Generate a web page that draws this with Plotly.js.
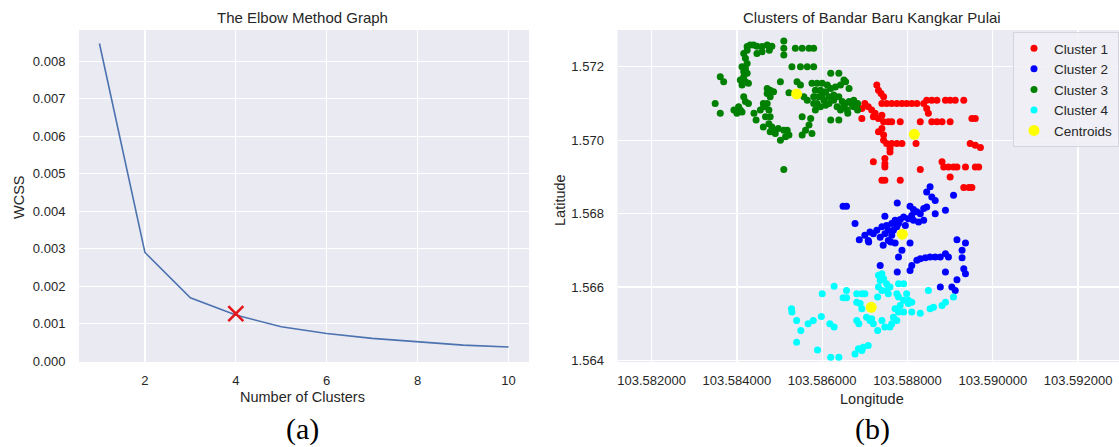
<!DOCTYPE html>
<html>
<head>
<meta charset="utf-8">
<script src="https://cdn.plot.ly/plotly-3.0.1.min.js"></script>
<style>
html,body{margin:0;padding:0;background:#fff;overflow:hidden;}
#chart{width:1119px;height:447px;}
</style>
</head>
<body>
<div id="chart"></div>
<script>
// ---------- Elbow data ----------
const kValues = [1, 2, 3, 4, 5, 6, 7, 8, 9, 10];
const wcss = [0.00847, 0.00290, 0.00169, 0.00123, 0.00092, 0.00074, 0.00061, 0.00052, 0.00043, 0.00038];
const elbowK = [4];
const elbowWcss = [0.00127];

// ---------- Cluster data ----------
const c1Lon = [103.58728,103.58732,103.58738,103.58744,103.58740,103.58751,103.58763,103.58775,103.58787,103.58798,103.58810,103.58822,103.58838,103.58845,103.58857,103.58869,103.58889,103.58900,103.58912,103.58932,103.58845,103.58849,103.58700,103.58708,103.58693,103.58716,103.58724,103.58720,103.58732,103.58740,103.58744,103.58755,103.58763,103.58783,103.58693,103.58830,103.58857,103.58869,103.58881,103.58900,103.58951,103.58959,103.58732,103.58740,103.58744,103.58744,103.58751,103.58763,103.58775,103.58787,103.58759,103.58759,103.58820,103.58947,103.58959,103.58971,103.58720,103.58747,103.58747,103.58747,103.58830,103.58881,103.58885,103.58896,103.58908,103.58916,103.58936,103.58959,103.58967,103.58900,103.58740,103.58747,103.58783,103.58932,103.58944,103.58951];
const c1Lat = [1.57150,1.57136,1.57127,1.57118,1.57100,1.57100,1.57100,1.57100,1.57100,1.57100,1.57100,1.57100,1.57100,1.57109,1.57109,1.57109,1.57109,1.57109,1.57109,1.57109,1.57086,1.57073,1.57100,1.57091,1.57086,1.57082,1.57073,1.57064,1.57059,1.57068,1.57050,1.57050,1.57050,1.57050,1.57059,1.57050,1.57050,1.57050,1.57050,1.57050,1.57059,1.57059,1.57023,1.57032,1.57014,1.57000,1.56991,1.56991,1.56991,1.56991,1.56977,1.56968,1.56991,1.56991,1.56986,1.56980,1.56941,1.56950,1.56936,1.56927,1.56920,1.56941,1.56927,1.56927,1.56927,1.56927,1.56927,1.56927,1.56927,1.56900,1.56891,1.56891,1.56891,1.56871,1.56871,1.56871];

const c2Lon = [103.58649,103.58657,103.58776,103.58806,103.58814,103.58822,103.58830,103.58853,103.58845,103.58857,103.58865,103.58838,103.58845,103.58865,103.58889,103.58908,103.58747,103.58677,103.58712,103.58720,103.58728,103.58740,103.58751,103.58763,103.58771,103.58783,103.58791,103.58802,103.58814,103.58826,103.58838,103.58700,103.58708,103.58687,103.58736,103.58747,103.58755,103.58763,103.58767,103.58775,103.58806,103.58787,103.58779,103.58736,103.58776,103.58806,103.58810,103.58822,103.58830,103.58842,103.58853,103.58865,103.58877,103.58889,103.58896,103.58916,103.58936,103.58928,103.58928,103.58932,103.58936,103.58916,103.58889,103.58877,103.58904,103.58912,103.58755,103.58779,103.58795,103.58810,103.58771,103.58743,103.58709,103.58761];
const c2Lat = [1.56820,1.56820,1.56829,1.56820,1.56811,1.56805,1.56800,1.56873,1.56859,1.56845,1.56836,1.56814,1.56818,1.56800,1.56809,1.56850,1.56793,1.56773,1.56750,1.56745,1.56755,1.56764,1.56768,1.56773,1.56782,1.56784,1.56791,1.56786,1.56782,1.56777,1.56782,1.56741,1.56727,1.56729,1.56736,1.56745,1.56727,1.56741,1.56755,1.56764,1.56720,1.56700,1.56682,1.56659,1.56641,1.56645,1.56659,1.56673,1.56677,1.56680,1.56682,1.56682,1.56682,1.56691,1.56682,1.56729,1.56720,1.56700,1.56680,1.56650,1.56636,1.56620,1.56641,1.56600,1.56600,1.56591,1.56755,1.56773,1.56768,1.56795,1.56720,1.56714,1.56723,1.56723];

const c3Lon = [103.58424,103.58431,103.58439,103.58447,103.58459,103.58471,103.58482,103.58476,103.58459,103.58447,103.58510,103.58510,103.58510,103.58537,103.58553,103.58569,103.58580,103.58416,103.58420,103.58424,103.58412,103.58416,103.58424,103.58408,103.58420,103.58427,103.58412,103.58529,103.58549,103.58565,103.58580,103.58361,103.58369,103.58502,103.58541,103.58549,103.58471,103.58478,103.58471,103.58478,103.58486,103.58522,103.58349,103.58361,103.58416,103.58420,103.58427,103.58408,103.58400,103.58412,103.58455,103.58463,103.58471,103.58475,103.58478,103.58475,103.58482,103.58478,103.58490,103.58502,103.58510,103.58518,103.58522,103.58514,103.58553,103.58573,103.58569,103.58561,103.58553,103.58576,103.58557,103.58565,103.58576,103.58588,103.58600,103.58612,103.58584,103.58596,103.58608,103.58620,103.58631,103.58643,103.58655,103.58663,103.58620,103.58639,103.58651,103.58580,103.58592,103.58600,103.58616,103.58627,103.58639,103.58647,103.58655,103.58663,103.58671,103.58580,103.58584,103.58596,103.58608,103.58616,103.58635,103.58643,103.58659,103.58620,103.58639,103.58510,103.58674,103.58683,103.58674,103.58683,103.58660,103.58650,103.58420,103.58416,103.58404,103.58424,103.58588,103.58604,103.58627,103.58462,103.58467,103.58488,103.58497,103.58462,103.58393,103.58440,103.58445];
const c3Lat = [1.57255,1.57259,1.57259,1.57256,1.57255,1.57259,1.57256,1.57245,1.57241,1.57236,1.57270,1.57250,1.57232,1.57250,1.57250,1.57250,1.57250,1.57236,1.57223,1.57209,1.57200,1.57186,1.57182,1.57164,1.57159,1.57155,1.57150,1.57200,1.57200,1.57200,1.57200,1.57173,1.57159,1.57159,1.57159,1.57150,1.57141,1.57136,1.57127,1.57118,1.57132,1.57129,1.57100,1.57073,1.57118,1.57105,1.57100,1.57082,1.57073,1.57077,1.57082,1.57091,1.57100,1.57082,1.57064,1.57045,1.57036,1.57023,1.57018,1.57000,1.57027,1.57027,1.57014,1.57009,1.57064,1.57059,1.57041,1.57027,1.57014,1.57018,1.57118,1.57109,1.57155,1.57155,1.57155,1.57150,1.57136,1.57136,1.57132,1.57141,1.57145,1.57150,1.57159,1.57141,1.57182,1.57182,1.57164,1.57118,1.57118,1.57123,1.57118,1.57109,1.57118,1.57105,1.57100,1.57105,1.57095,1.57100,1.57082,1.57091,1.57095,1.57100,1.57091,1.57082,1.57082,1.57055,1.57055,1.56920,1.57109,1.57100,1.57091,1.57082,1.57073,1.57091,1.57195,1.57173,1.57091,1.57245,1.57100,1.57109,1.57123,1.57100,1.57064,1.57027,1.57032,1.57036,1.57082,1.57073,1.57055];

const c4Lon = [103.58528,103.58529,103.58540,103.58550,103.58540,103.58567,103.58579,103.58598,103.58618,103.58628,103.58589,103.58620,103.58639,103.58600,103.58628,103.58657,103.58649,103.58657,103.58681,103.58693,103.58700,103.58681,103.58689,103.58693,103.58681,103.58686,103.58704,103.58712,103.58720,103.58730,103.58716,103.58677,103.58685,103.58696,103.58708,103.58693,103.58732,103.58740,103.58736,103.58744,103.58751,103.58759,103.58732,103.58740,103.58751,103.58755,103.58730,103.58779,103.58791,103.58775,103.58779,103.58798,103.58791,103.58802,103.58783,103.58771,103.58779,103.58791,103.58802,103.58810,103.58767,103.58775,103.58763,103.58747,103.58759,103.58740,103.58810,103.58830,103.58849,103.58853,103.58861,103.58881,103.58889,103.58908];
const c4Lat = [1.56541,1.56532,1.56509,1.56482,1.56450,1.56500,1.56509,1.56520,1.56500,1.56491,1.56429,1.56409,1.56409,1.56582,1.56602,1.56591,1.56571,1.56571,1.56582,1.56582,1.56582,1.56559,1.56555,1.56541,1.56509,1.56500,1.56518,1.56509,1.56500,1.56482,1.56514,1.56418,1.56432,1.56436,1.56441,1.56427,1.56632,1.56636,1.56618,1.56623,1.56609,1.56600,1.56600,1.56591,1.56591,1.56582,1.56573,1.56609,1.56609,1.56582,1.56573,1.56582,1.56564,1.56564,1.56550,1.56541,1.56532,1.56532,1.56555,1.56559,1.56518,1.56509,1.56500,1.56491,1.56491,1.56509,1.56532,1.56529,1.56591,1.56541,1.56545,1.56550,1.56559,1.56573];

const centroidLon = [103.58816, 103.58788, 103.58540, 103.58715];
const centroidLat = [1.57016, 1.56744, 1.57126, 1.56545];

const clusterNames = ['Cluster 1', 'Cluster 2', 'Cluster 3', 'Cluster 4'];
const clusterColors = ['#ff0000', '#0000ff', '#008000', '#00ffff'];

// ---------- Traces ----------
const traces = [
  {x: kValues, y: wcss, type: 'scatter', mode: 'lines', xaxis: 'x', yaxis: 'y',
   line: {color: '#4c72b0', width: 1.6}, showlegend: false, hoverinfo: 'skip'},
  {x: elbowK, y: elbowWcss, type: 'scatter', mode: 'markers', xaxis: 'x', yaxis: 'y',
   marker: {symbol: 'x-thin', size: 15, color: '#e3161b', line: {color: '#e3161b', width: 2.6}},
   showlegend: false, hoverinfo: 'skip'}
];
const lons = [c1Lon, c2Lon, c3Lon, c4Lon];
const lats = [c1Lat, c2Lat, c3Lat, c4Lat];
for (let i = 0; i < 4; i++) {
  traces.push({x: lons[i], y: lats[i], type: 'scatter', mode: 'markers', xaxis: 'x2', yaxis: 'y2',
    name: clusterNames[i], marker: {color: clusterColors[i], size: 7}});
}
traces.push({x: centroidLon, y: centroidLat, type: 'scatter', mode: 'markers', xaxis: 'x2', yaxis: 'y2',
  name: 'Centroids', marker: {color: '#ffff00', size: 11}});

const W = 1119, H = 447;
const px = v => v / W;
const py = v => 1 - v / H;
const plotTop = 30, plotBottom = 362;
const yDom = [py(plotBottom), py(plotTop)];

const axisCommon = {
  showgrid: true, gridcolor: '#ffffff', gridwidth: 1.2, zeroline: false, showline: false,
  ticks: 'outside', tickcolor: 'rgba(0,0,0,0)',
  tickfont: {family: 'Liberation Sans, Arial, sans-serif', size: 13, color: '#262626'},
  fixedrange: true
};
const xAxisBase = Object.assign({}, axisCommon, {ticklen: 6});
const yAxisBase = Object.assign({}, axisCommon, {ticklen: 10});

const ann = (text, x, y, opts) => Object.assign({
  text: text, x: x, y: y, xref: 'paper', yref: 'paper', showarrow: false,
  xanchor: 'center', yanchor: 'middle',
  font: {family: 'Liberation Sans, Arial, sans-serif', size: 14.5, color: '#262626'}
}, opts || {});
const titleFont = {family: 'Liberation Sans, Arial, sans-serif', size: 15, color: '#262626'};
const capFont = {family: 'Liberation Serif, Times New Roman, serif', size: 30, color: '#000000'};

const layout = {
  width: W, height: H,
  margin: {l: 0, r: 0, t: 0, b: 0},
  paper_bgcolor: '#ffffff', plot_bgcolor: '#eaeaf2',
  font: {family: 'Liberation Sans, Arial, sans-serif', size: 13, color: '#262626'},
  xaxis: Object.assign({}, xAxisBase, {domain: [px(79), px(529)], range: [0.55, 10.45], tick0: 0, dtick: 2, anchor: 'y'}),
  yaxis: Object.assign({}, yAxisBase, {domain: yDom, range: [-0.00002, 0.00883], tick0: 0, dtick: 0.001, tickformat: '.3f', anchor: 'x'}),
  xaxis2: Object.assign({}, xAxisBase, {domain: [px(617.5), 1], range: [103.5812, 103.59296], tick0: 103.582, dtick: 0.002, tickformat: '.6f', anchor: 'y2'}),
  yaxis2: Object.assign({}, yAxisBase, {domain: yDom, range: [1.56396, 1.573], tick0: 1.564, dtick: 0.002, tickformat: '.3f', anchor: 'x2'}),
  showlegend: true,
  legend: {x: px(1013), y: py(32), xanchor: 'left', yanchor: 'top',
    bgcolor: 'rgba(240,240,246,0.85)', bordercolor: '#d4d4dc', borderwidth: 1,
    font: {family: 'Liberation Sans, Arial, sans-serif', size: 13.5, color: '#262626'},
    tracegroupgap: 0},
  annotations: [
    ann('The Elbow Method Graph', px(302), py(17), {font: titleFont}),
    ann('Clusters of Bandar Baru Kangkar Pulai', px(872), py(17), {font: titleFont}),
    ann('Number of Clusters', px(302), py(397)),
    ann('Longitude', px(872), py(399)),
    ann('WCSS', px(19), py(197), {textangle: -90}),
    ann('Latitude', px(560), py(200), {textangle: -90}),
    ann('(a)', px(302), py(429), {font: capFont}),
    ann('(b)', px(872), py(429), {font: capFont})
  ]
};

Plotly.newPlot('chart', traces, layout, {displayModeBar: false, staticPlot: true});
</script>
</body>
</html>
